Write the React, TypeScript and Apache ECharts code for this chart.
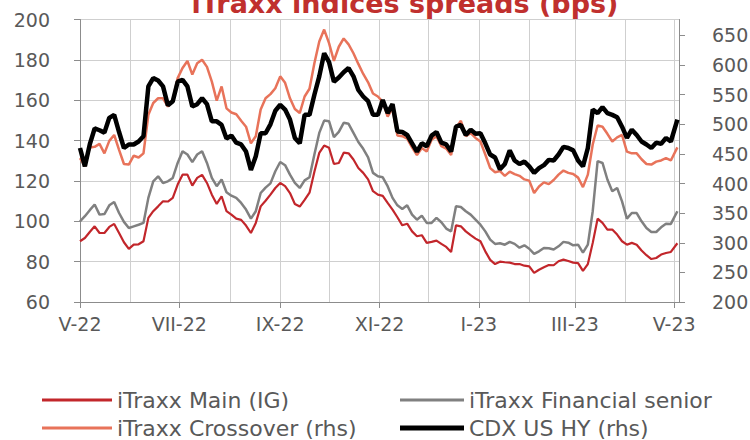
import React, { useEffect, useRef } from 'react';
import * as echarts from 'echarts';

// ---- sample dates (roughly every 3 days) ----
const dates: string[] = [
  '2022-05-01','2022-05-04','2022-05-07','2022-05-10','2022-05-13','2022-05-16','2022-05-19','2022-05-22','2022-05-25','2022-05-28','2022-05-31',
  '2022-06-03','2022-06-06','2022-06-09','2022-06-12','2022-06-15','2022-06-18','2022-06-21','2022-06-24','2022-06-27','2022-06-30',
  '2022-07-03','2022-07-06','2022-07-09','2022-07-12','2022-07-15','2022-07-18','2022-07-21','2022-07-24','2022-07-27','2022-07-30',
  '2022-08-02','2022-08-05','2022-08-08','2022-08-11','2022-08-14','2022-08-17','2022-08-20','2022-08-23','2022-08-26','2022-08-29',
  '2022-09-01','2022-09-04','2022-09-07','2022-09-10','2022-09-13','2022-09-16','2022-09-19','2022-09-22','2022-09-25','2022-09-28',
  '2022-10-01','2022-10-04','2022-10-07','2022-10-10','2022-10-13','2022-10-16','2022-10-19','2022-10-22','2022-10-25','2022-10-28','2022-10-31',
  '2022-11-03','2022-11-06','2022-11-09','2022-11-12','2022-11-15','2022-11-18','2022-11-21','2022-11-24','2022-11-27','2022-11-30',
  '2022-12-03','2022-12-06','2022-12-09','2022-12-12','2022-12-15','2022-12-18','2022-12-21','2022-12-24','2022-12-27','2022-12-30',
  '2023-01-02','2023-01-05','2023-01-08','2023-01-11','2023-01-14','2023-01-17','2023-01-20','2023-01-23','2023-01-26','2023-01-29',
  '2023-02-01','2023-02-04','2023-02-07','2023-02-10','2023-02-13','2023-02-16','2023-02-19','2023-02-22','2023-02-25','2023-02-28',
  '2023-03-03','2023-03-06','2023-03-09','2023-03-12','2023-03-15','2023-03-18','2023-03-21','2023-03-24','2023-03-27','2023-03-30',
  '2023-04-02','2023-04-05','2023-04-08','2023-04-11','2023-04-14','2023-04-17','2023-04-20','2023-04-23','2023-04-26','2023-04-29',
  '2023-05-03',
];

// ---- series values ----
const itraxxMain: number[] = [
  90.1, 91.7, 94.7, 97.5, 94.2, 94.2, 97.2, 98.7, 94.2, 89.6, 86.3, 88.4, 88.6, 90.1, 101.7, 105.0, 107.4, 109.9, 109.8, 111.6, 118.2,
  123.1, 123.1, 117.7, 121.5, 123.0, 119.0, 113.2, 108.6, 112.4, 105.0, 103.3, 101.3, 100.7, 97.9, 94.2, 99.2, 107.4, 110.2, 113.2, 116.5, 119.0,
  117.4, 114.0, 108.6, 107.3, 110.6, 114.2, 124.5, 133.9, 137.5, 136.4, 128.4, 128.9, 134.0, 133.7, 130.6, 126.4, 124.0, 120.8, 114.9, 113.2,
  112.6, 109.1, 105.8, 102.0, 98.0, 98.8, 95.0, 92.6, 93.1, 89.3, 89.8, 90.4, 88.8, 87.3, 84.8, 98.0, 97.5, 95.0, 93.1, 91.4, 90.1,
  85.1, 80.9, 78.8, 80.0, 79.7, 79.5, 78.8, 78.8, 78.0, 77.7, 74.4, 76.0, 77.2, 78.3, 78.2, 80.2, 81.0, 80.3, 79.5, 79.3,
  75.4, 78.8, 89.3, 101.3, 99.2, 95.9, 95.9, 93.4, 90.1, 88.4, 89.3, 88.4, 85.5, 83.2, 81.3, 81.8, 83.5, 84.3, 84.8, 89.1,
];

const itraxxFinSenior: number[] = [
  100.0, 102.5, 105.5, 108.3, 103.3, 103.6, 107.9, 109.6, 104.1, 99.7, 96.7, 97.5, 98.3, 99.2, 111.6, 119.8, 122.3, 119.0, 119.8, 121.5, 128.9,
  134.7, 133.1, 129.3, 133.1, 134.7, 128.9, 121.5, 117.4, 120.7, 114.4, 112.7, 111.6, 109.1, 105.8, 101.3, 105.0, 114.0, 116.7, 118.8, 124.8, 129.4,
  127.8, 123.1, 119.0, 116.5, 120.3, 121.8, 133.1, 143.8, 149.9, 149.6, 141.7, 144.3, 148.8, 148.3, 143.8, 139.3, 135.9, 131.7, 124.0, 122.3,
  121.8, 117.4, 111.6, 107.9, 106.1, 107.9, 103.3, 100.8, 102.8, 99.2, 99.2, 101.7, 99.5, 96.4, 95.0, 107.4, 107.1, 105.0, 103.3, 100.8, 98.3,
  95.0, 90.9, 88.8, 89.1, 88.4, 89.8, 88.8, 86.9, 88.1, 86.4, 83.8, 85.1, 86.8, 86.6, 86.0, 87.6, 89.8, 89.4, 88.1, 88.4,
  84.5, 88.4, 105.0, 129.8, 128.9, 120.7, 114.9, 116.5, 109.9, 101.3, 104.1, 104.1, 100.0, 96.7, 94.7, 94.7, 97.0, 98.8, 98.7, 105.0,
];

const itraxxCrossover: number[] = [
  443, 429, 461, 462, 467, 451, 472, 482, 457, 433, 432, 447, 444, 451, 516, 536, 544, 544, 530, 541, 578,
  595, 607, 584, 603, 609, 597, 572, 540, 564, 527, 520, 517, 506, 496, 468, 480, 525, 544, 551, 561, 581,
  570, 544, 526, 519, 547, 560, 603, 640, 660, 637, 607, 631, 645, 635, 620, 602, 585, 571, 552, 547,
  538, 513, 527, 481, 480, 476, 461, 448, 460, 454, 474, 480, 463, 459, 448, 494, 506, 480, 485, 477, 471,
  449, 426, 419, 421, 413, 420, 416, 413, 407, 405, 384, 395, 402, 399, 406, 415, 422, 418, 416, 410,
  394, 415, 466, 498, 496, 484, 471, 478, 482, 454, 451, 451, 441, 433, 432, 437, 439, 443, 439, 461,
];

const cdxUsHy: number[] = [
  460, 429, 466, 493, 490, 486, 511, 516, 487, 460, 466, 466, 471, 480, 564, 578, 574, 564, 532, 539, 572,
  575, 564, 530, 534, 544, 534, 505, 505, 499, 476, 481, 469, 466, 454, 423, 446, 485, 485, 500, 523, 533,
  525, 508, 477, 468, 516, 516, 550, 581, 620, 605, 572, 579, 588, 595, 581, 558, 547, 539, 516, 516,
  541, 519, 534, 488, 487, 482, 468, 454, 468, 463, 481, 487, 469, 466, 454, 496, 499, 482, 491, 484, 485,
  468, 449, 444, 424, 433, 456, 439, 433, 437, 429, 418, 426, 431, 440, 439, 449, 462, 460, 456, 439,
  429, 460, 525, 519, 529, 519, 516, 512, 496, 477, 491, 482, 471, 466, 460, 469, 467, 477, 471, 508,
];

// ---- axis ticks / labels ----
const monthStarts: string[] = [
  '2022-05-01','2022-06-01','2022-07-01','2022-08-01','2022-09-01','2022-10-01','2022-11-01',
  '2022-12-01','2023-01-01','2023-02-01','2023-03-01','2023-04-01','2023-05-01',
];
const xTickDates: string[] = ['2022-05-01','2022-07-01','2022-09-01','2022-11-01','2023-01-01','2023-03-01','2023-05-01'];
const xTickLabels: string[] = ['V-22','VII-22','IX-22','XI-22','I-23','III-23','V-23'];
const rightTicks: number[] = [200, 250, 300, 350, 400, 450, 500, 550, 600, 650];
const xStart = '2022-05-01';
const xEnd = '2023-05-04';

const names = {
  main: 'iTraxx Main (IG)',
  fin: 'iTraxx Financial senior',
  xover: 'iTraxx Crossover (rhs)',
  cdx: 'CDX US HY (rhs)',
};

const colors = {
  main: '#C2262B',
  fin: '#808080',
  xover: '#E8735A',
  cdx: '#000000',
};

function ts(s: string): number {
  const [y, m, d] = s.split('-').map(Number);
  return Date.UTC(y, m - 1, d);
}

const FONT = "'DejaVu Sans', 'Liberation Sans', sans-serif";
const LABEL_COLOR = '#595959';
const AXIS_COLOR = '#8c8c8c';
const GRID_COLOR = '#cfcfcf';

function legendItem(name: string, left: number, top: number, iconW: number, iconH: number) {
  return {
    orient: 'horizontal',
    left,
    top,
    padding: 0,
    icon: 'rect',
    itemWidth: iconW,
    itemHeight: iconH,
    selectedMode: false,
    data: [name],
    textStyle: { fontFamily: FONT, fontSize: 22, color: LABEL_COLOR, lineHeight: 24 },
  };
}

export default function App() {
  const ref = useRef<HTMLDivElement>(null);

  useEffect(() => {
    if (!ref.current) return;
    const chart = echarts.init(ref.current, undefined, { renderer: 'svg' });
    const pair = (vals: number[]) => dates.map((d, i) => [ts(d), vals[i]]);
    const tickTs = xTickDates.map(ts);

    chart.setOption({
      animation: false,
      backgroundColor: '#ffffff',
      textStyle: { fontFamily: FONT },
      graphic: [
        {
          type: 'text',
          x: 405,
          y: 3,
          silent: true,
          style: {
            text: 'iTraxx indices spreads (bps)',
            fontFamily: FONT,
            fontSize: 27,
            fontWeight: 'bold',
            fill: '#C0302E',
            align: 'center',
            verticalAlign: 'middle',
          },
        },
      ],
      grid: {
        left: 80,
        right: 71,
        top: 19.5,
        bottom: 138,
        containLabel: false,
        outerBoundsMode: 'none',
      },
      legend: [
        legendItem(names.main, 42, 388, 70, 3),
        legendItem(names.xover, 42, 416, 70, 3),
        legendItem(names.fin, 400, 388, 64, 3),
        legendItem(names.cdx, 400, 416, 64, 5),
      ],
      xAxis: [
        {
          type: 'value',
          min: ts(xStart),
          max: ts(xEnd),
          axisLine: { show: true, onZero: false, lineStyle: { color: AXIS_COLOR, width: 1 } },
          axisTick: { show: false, customValues: monthStarts.map(ts) },
          axisLabel: { show: false },
          splitLine: { show: true, lineStyle: { color: GRID_COLOR, width: 1 } },
        },
        {
          type: 'value',
          position: 'bottom',
          min: ts(xStart),
          max: ts(xEnd),
          axisLine: { show: false, onZero: false },
          axisTick: { show: true, length: 6, customValues: tickTs, lineStyle: { color: AXIS_COLOR } },
          axisLabel: {
            show: true,
            customValues: tickTs,
            hideOverlap: false,
            margin: 12,
            color: LABEL_COLOR,
            fontFamily: FONT,
            fontSize: 19,
            formatter: (v: number) => {
              let best = -1;
              let bestD = Infinity;
              tickTs.forEach((t, i) => {
                const d = Math.abs(t - v);
                if (d < bestD) { bestD = d; best = i; }
              });
              return best >= 0 && bestD < 2 * 86400000 ? xTickLabels[best] : '';
            },
          },
          splitLine: { show: false },
        },
      ],
      yAxis: [
        {
          type: 'value',
          position: 'left',
          min: 60,
          max: 200,
          interval: 20,
          axisLine: { show: true, lineStyle: { color: AXIS_COLOR, width: 1 } },
          axisTick: { show: true, length: 6, lineStyle: { color: AXIS_COLOR } },
          axisLabel: { color: LABEL_COLOR, fontFamily: FONT, fontSize: 19, margin: 30 },
          splitLine: { show: true, lineStyle: { color: GRID_COLOR, width: 1 } },
        },
        {
          type: 'value',
          position: 'right',
          min: 200,
          max: 677,
          axisLine: { show: true, lineStyle: { color: AXIS_COLOR, width: 1 } },
          axisTick: { show: true, length: 6, customValues: rightTicks, lineStyle: { color: AXIS_COLOR } },
          axisLabel: { customValues: rightTicks, color: LABEL_COLOR, fontFamily: FONT, fontSize: 19, margin: 19, padding: [0, 0, 0, 14] },
          splitLine: { show: false },
        },
      ],
      series: [
        {
          name: names.main,
          type: 'line',
          xAxisIndex: 0,
          yAxisIndex: 0,
          symbol: 'none',
          data: pair(itraxxMain),
          lineStyle: { color: colors.main, width: 2.2 },
          itemStyle: { color: colors.main },
        },
        {
          name: names.fin,
          type: 'line',
          xAxisIndex: 0,
          yAxisIndex: 0,
          symbol: 'none',
          data: pair(itraxxFinSenior),
          lineStyle: { color: colors.fin, width: 2.5 },
          itemStyle: { color: colors.fin },
        },
        {
          name: names.xover,
          type: 'line',
          xAxisIndex: 0,
          yAxisIndex: 1,
          symbol: 'none',
          data: pair(itraxxCrossover),
          lineStyle: { color: colors.xover, width: 2.5 },
          itemStyle: { color: colors.xover },
        },
        {
          name: names.cdx,
          type: 'line',
          xAxisIndex: 0,
          yAxisIndex: 1,
          symbol: 'none',
          data: pair(cdxUsHy),
          lineStyle: { color: colors.cdx, width: 4.5 },
          itemStyle: { color: colors.cdx },
        },
      ],
    });

    return () => {
      chart.dispose();
    };
  }, []);

  return (
    <div
      ref={ref}
      style={{ position: 'fixed', left: 0, top: 0, width: 750, height: 440, background: '#fff' }}
    />
  );
}
